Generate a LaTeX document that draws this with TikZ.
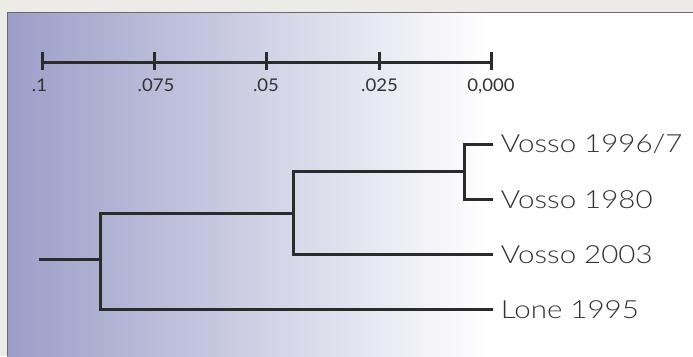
\documentclass[tikz,border=0pt]{standalone}
\usepackage{fontspec}
\setmainfont{Lato}[UprightFont=* Light, FakeStretch=1.18]
\newfontfamily\tickfont{Lato}[FakeStretch=1.06]
\definecolor{outerbg}{HTML}{ECEBE7}
\definecolor{panelleft}{HTML}{9B9EC8}
\definecolor{framegray}{HTML}{6A6A6A}
\definecolor{ink}{HTML}{2B2B2B}
\definecolor{txt}{HTML}{333333}
\tikzset{
  treeline/.style={draw=ink, line width=3pt, line join=miter, line cap=rect},
  scaleline/.style={draw=ink, line width=3pt},
  ticklabel/.style={text=txt, font=\tickfont\fontsize{17.5}{20}\selectfont, inner sep=0pt, anchor=base},
  leaflabel/.style={text=txt, font=\fontsize{25}{28}\selectfont, anchor=west, inner xsep=9pt, inner ysep=0pt},
}
\begin{document}
\begin{tikzpicture}[x=1pt,y=-1pt]
\useasboundingbox (0,0) rectangle (693,356);
\fill[outerbg] (0,0) rectangle (693,356);
\shade[left color=panelleft, right color=white] (7,12) rectangle (488,356);
\fill[white] (487.5,12) rectangle (693,356);
\draw[framegray, line width=1.6pt] (7.5,356) -- (7.5,12.5) -- (693,12.5);
% scale
\coordinate (s1) at (42.3,62);
\coordinate (s2) at (154.7,62);
\coordinate (s3) at (266.7,62);
\coordinate (s4) at (379.3,62);
\coordinate (s5) at (491.7,62);
\draw[scaleline] (s1) -- (s5);
\foreach \c in {s1,s2,s3,s4,s5} {
  \draw[scaleline] ([yshift=10.3]\c) -- ([yshift=-8]\c);
}
\node[ticklabel] (l1) at (39.5,91.5) {.1};
\node[ticklabel] (l2) at (156,91.5) {.075};
\node[ticklabel] (l3) at (266,91.5) {.05};
\node[ticklabel] (l4) at (379.5,91.5) {.025};
\node[ticklabel] (l5) at (491,91.5) {0,000};
% tree
\coordinate (root) at (40,259.7);
\coordinate (A) at (100,259.7);
\coordinate (B) at (293.3,213.3);
\coordinate (C) at (464,171.7);
\node[leaflabel] (v96) at (491.7,144) {Vosso 1996/7};
\node[leaflabel] (v80) at (491.7,199.3) {Vosso 1980};
\node[leaflabel] (v03) at (491.7,254.7) {Vosso 2003};
\node[leaflabel] (lone) at (491.7,309.3) {Lone 1995};
\draw[treeline] (v96.west) -| (C) |- (v80.west);
\draw[treeline] (C) -| (B) |- (v03.west);
\draw[treeline] (B) -| (A) |- (lone.west);
\draw[treeline] (root) -- (A);
\end{tikzpicture}
\end{document}
